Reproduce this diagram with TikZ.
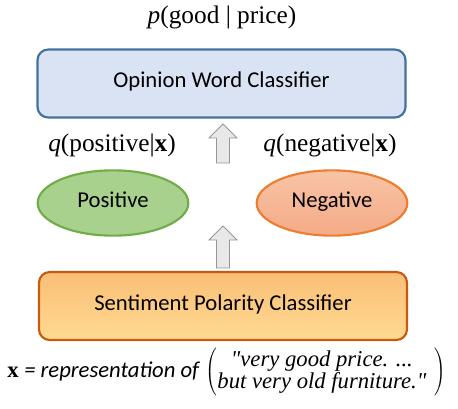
\documentclass[tikz,border=0pt]{standalone}
\usepackage{fontspec}
\setmainfont{Liberation Serif}
\setsansfont{Carlito}
\usetikzlibrary{shapes.geometric}

\definecolor{wordfill}{RGB}{218,227,243}
\definecolor{worddraw}{RGB}{65,113,156}
\definecolor{posfill}{RGB}{169,209,142}
\definecolor{posdraw}{RGB}{112,173,71}
\definecolor{negtop}{RGB}{248,196,166}
\definecolor{negbottom}{RGB}{244,170,134}
\definecolor{negdraw}{RGB}{237,125,49}
\definecolor{senttop}{RGB}{249,190,118}
\definecolor{sentbottom}{RGB}{255,218,146}
\definecolor{sentdraw}{RGB}{197,90,17}
\definecolor{arrowfill}{RGB}{232,232,232}
\definecolor{arrowdraw}{RGB}{150,150,150}

\begin{document}
\begin{tikzpicture}[x=0.75pt,y=-0.75pt]
  \tikzset{classifier/.style={draw,rounded corners=8pt,line width=1.6pt,minimum width=276pt,minimum height=51pt,text height=0.64em,text depth=0pt,font=\sffamily\fontsize{17}{20}\selectfont},
    polarity/.style={ellipse,draw,line width=1.6pt,minimum width=113pt,minimum height=49pt,text height=0.64em,text depth=0pt,font=\sffamily\fontsize{17}{20}\selectfont},
    blockarrow/.style={draw=arrowdraw,fill=arrowfill,line width=0.6pt},
    prob/.style={font=\fontsize{19}{22}\selectfont}}
  \useasboundingbox (0,0) rectangle (458,408);
  \node[prob] (title) at (222,17) {\textit{p}(good | price)};
  \node[classifier,fill=wordfill,draw=worddraw] (opinion) at (221.5,83.5) {Opinion Word Classifier};
  \node[prob] (qpos) at (112,145) {\textit{q}(positive|\textbf{x})};
  \node[prob] (qneg) at (330,145) {\textit{q}(negative|\textbf{x})};
  \node[polarity,fill=posfill,draw=posdraw] (positive) at (113,203) {Positive};
  \node[polarity,top color=negtop,bottom color=negbottom,draw=negdraw] (negative) at (332,203) {Negative};
  \node[classifier,top color=senttop,bottom color=sentbottom,draw=sentdraw] (sentiment) at (223,306) {Sentiment Polarity Classifier};
  \node[anchor=west,inner sep=0pt,font=\fontsize{17}{20}\selectfont] (input) at (7,372)
    {\textbf{x} {\sffamily\itshape = representation of}\hspace{5pt}$\left(\begin{tabular}{@{}c@{}}\itshape \textquotedbl very good price. ...\\[-3pt] \itshape but very old furniture.\textquotedbl\end{tabular}\hspace{6pt}\right)$};
  % hollow arrows
  \coordinate (tip1) at (223,124);
  \coordinate (tip2) at (223,226);
  \draw[blockarrow] (tip1) -- ++(14,14) -- ++(-7.5,0) -- ++(0,25) -- ++(-13,0) -- ++(0,-25) -- ++(-7.5,0) -- cycle;
  \draw[blockarrow] (tip2) -- ++(14,14) -- ++(-7.5,0) -- ++(0,28) -- ++(-13,0) -- ++(0,-28) -- ++(-7.5,0) -- cycle;
\end{tikzpicture}
\end{document}
